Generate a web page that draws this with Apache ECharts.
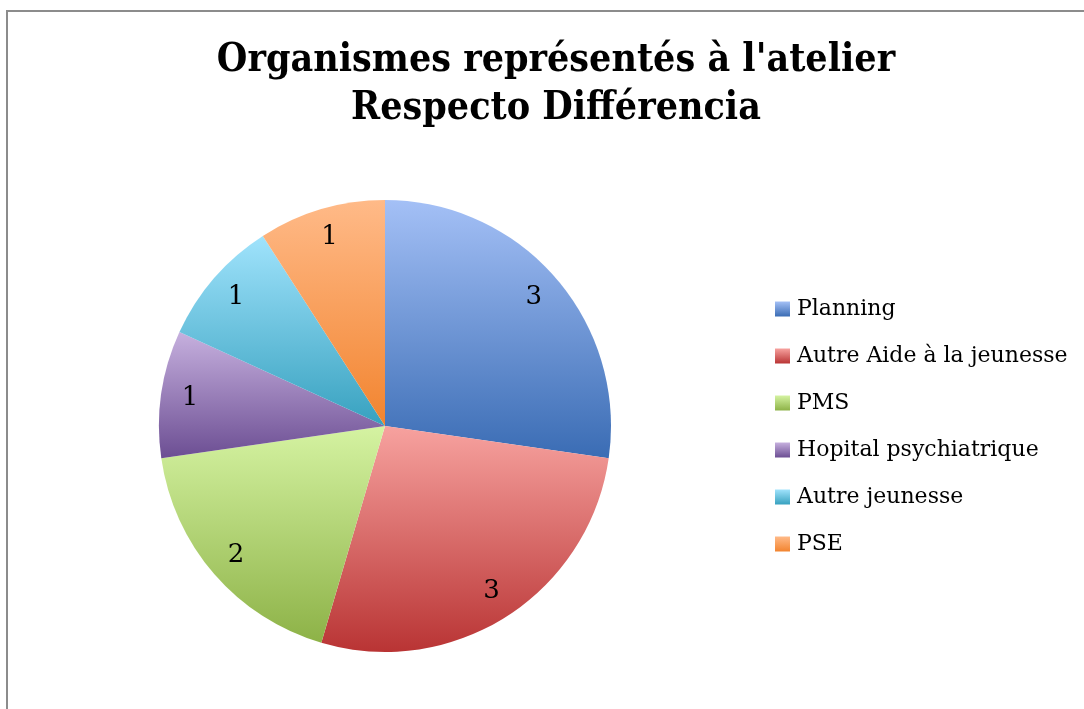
<!DOCTYPE html>
<html>
<head>
<meta charset="utf-8">
<script src="https://cdn.jsdelivr.net/npm/echarts@6/dist/echarts.min.js"></script>
<style>
  html, body { margin: 0; padding: 0; background: #fff; }
  #frame {
    position: absolute; left: 6px; top: 10px; width: 1100px; height: 720px;
    border-left: 2px solid #8c8c8c; border-top: 2px solid #8c8c8c;
  }
  #chart { position: absolute; left: 0; top: 0; width: 1084px; height: 709px; }
</style>
</head>
<body>
<div id="frame"></div>
<div id="chart"></div>
<script>
const categories = ['Planning', 'Autre Aide à la jeunesse', 'PMS', 'Hopital psychiatrique', 'Autre jeunesse', 'PSE'];
const values = [3, 3, 2, 1, 1, 1];
const lightColors = ['#a4c0f6', '#f7a29f', '#d5f3a2', '#c6b0de', '#a0e3fc', '#ffba88'];
const darkColors = ['#3a6cb4', '#b93434', '#8db247', '#6c4e93', '#37a1bf', '#f2842f'];

const grad = (i) => new echarts.graphic.LinearGradient(0, 0, 0, 1, [
  { offset: 0, color: lightColors[i] },
  { offset: 1, color: darkColors[i] }
]);

const pieData = categories.map((name, i) => ({
  name: name, value: values[i], itemStyle: { color: grad(i) }
}));
const labelData = categories.map((name, i) => ({ name: name, value: values[i] }));

const chart = echarts.init(document.getElementById('chart'));
chart.setOption({
  animation: false,
  title: {
    text: "Organismes représentés à l'atelier\nRespecto Différencia",
    left: 551, top: 32, textAlign: 'center',
    textStyle: {
      fontFamily: 'DejaVu Serif Condensed', fontWeight: 'bold',
      fontSize: 39, lineHeight: 48, color: '#000'
    }
  },
  legend: {
    orient: 'vertical', left: 775, top: 297, padding: 0,
    itemWidth: 15, itemHeight: 15, itemGap: 23,
    icon: 'rect',
    data: categories,
    textStyle: { fontFamily: 'DejaVu Serif', fontSize: 22, lineHeight: 24, color: '#000', padding: [0, 0, 0, 2] }
  },
  series: [
    {
      type: 'pie', center: [385, 426], radius: [0, 226],
      startAngle: 90, clockwise: true, silent: true,
      data: pieData,
      label: { show: false }, labelLine: { show: false }
    },
    {
      type: 'pie', center: [385, 426], radius: [162, 226],
      startAngle: 90, clockwise: true, silent: true,
      data: labelData,
      itemStyle: { color: 'rgba(0,0,0,0)' },
      label: {
        show: true, position: 'inside', formatter: '{c}',
        fontFamily: 'DejaVu Serif', fontSize: 26, color: '#000'
      },
      labelLine: { show: false }
    }
  ]
});
</script>
</body>
</html>
